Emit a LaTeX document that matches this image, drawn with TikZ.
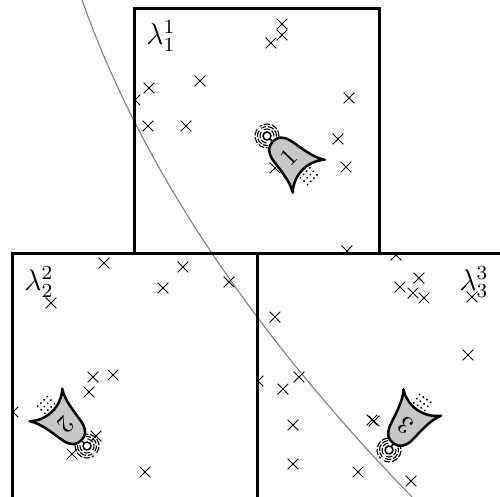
\documentclass[tikz,border=0pt]{standalone}

\tikzset{
  region/.style={line width=1.2pt},
  sample/.style={only marks, mark=x, mark size=3pt, line width=0.4pt},
  boundary/.style={gray, line width=0.45pt},
  wave/.style={line width=0.45pt, dash pattern=on 2.6pt off 0.7pt},
  hull/.style={line width=1pt, fill=black!22, line join=round},
  drone/.pic={
    % radio waves round the antenna
    \foreach \r in {7,9.5,12}{
      \draw[wave] (100:\r) arc[start angle=100, end angle=230, radius=\r];
      \draw[wave] (-50:\r) arc[start angle=-50, end angle=80, radius=\r];
    }
    \draw[hull] (0,-8) .. controls (7,-8) and (11,-12) .. (13,-20)
      .. controls (15,-30) and (16,-48) .. (23,-58)
      .. controls (10,-46) and (-10,-46) .. (-23,-58)
      .. controls (-16,-48) and (-15,-30) .. (-13,-20)
      .. controls (-11,-12) and (-7,-8) .. cycle;
    \draw[semithick] (0,-4) -- (0,-8);
    \draw[semithick, fill=white] (0,0) circle[radius=4];
    % exhaust
    \foreach \i in {-1.5,-0.5,0.5,1.5}
      \foreach \j in {0,1,2}
        \fill (\i*4.5, -53-\j*5) circle[radius=1.1];
    \node[transform shape, font=\normalsize] (num) at (0,-30) {#1};
  }
}

\begin{document}
\begin{tikzpicture}[x=0.4pt, y=0.4pt]
  \def\s{245}
  \useasboundingbox (0,0) rectangle (500,497);
  \clip (0,0) rectangle (500,497);

  % decision boundary
  \draw[boundary] (82,497) .. controls (141,331) and (251,166) .. (412,0);

  % samples, each set kept inside its own square
  \begin{scope}
    \clip (134,243) rectangle ++(\s,\s);
    \draw[sample] plot coordinates {(282,473) (282,462) (271,454) (149,409)
      (200,416) (135,397) (349,399) (148,371) (186,371) (338,358) (346,330)
      (275,329) (347,246)};
  \end{scope}
  \begin{scope}
    \clip (12,-2) rectangle ++(\s,\s);
    \draw[sample] plot coordinates {(104,234) (51,194) (183,230) (163,209)
      (229,215) (93,120) (113,122) (89,105) (13,85) (96,61) (72,43) (145,25)};
  \end{scope}
  \begin{scope}
    \clip (257,-2) rectangle ++(\s,\s);
    \draw[sample] plot coordinates {(258,116) (283,108) (299,120) (293,72)
      (293,33) (358,25) (372,77) (374,76) (411,16) (275,180) (396,242)
      (400,210) (419,219) (413,204) (424,199) (472,200) (468,142)};
  \end{scope}

  % regions
  \draw[region] (134,243) rectangle ++(\s,\s);
  \draw[region] (12,-2) rectangle ++(\s,\s);
  \draw[region] (257,-2) rectangle ++(\s,\s);

  \node[font=\large] (lam1) at (161,461) {$\lambda_1^1$};
  \node[font=\large] (lam2) at (39,215) {$\lambda_2^2$};
  \node[font=\large] (lam3) at (474,215) {$\lambda_3^3$};

  % agents
  \pic[rotate=46] (d1) at (267,361) {drone=1};
  \pic[rotate=225] (d2) at (87,51) {drone=2};
  \pic[rotate=145] (d3) at (389,47) {drone=3};
\end{tikzpicture}
\end{document}
